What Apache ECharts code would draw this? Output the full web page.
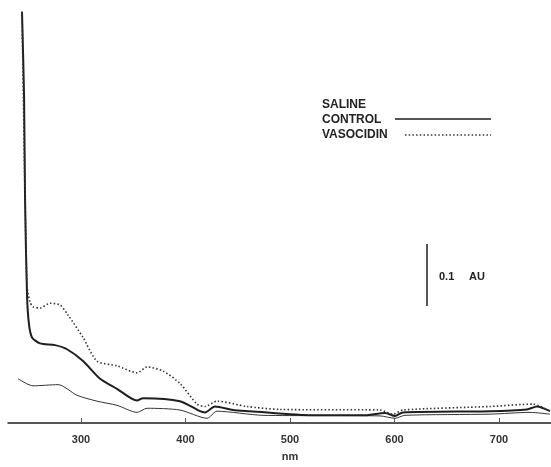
<!DOCTYPE html>
<html><head><meta charset="utf-8">
<script src="https://cdn.jsdelivr.net/npm/echarts@6/dist/echarts.min.js"></script>
<style>html,body{margin:0;padding:0;background:#fff}#c{width:551px;height:467px}</style>
</head><body><div id="c"></div>
<script>
var tickLabels = [300, 400, 500, 600, 700];
var legendNames = ['SALINE\nCONTROL', 'VASOCIDIN'];

var controlNm = [243.5,245.5,246.4,248.3,250.2,253.1,260.8,275.1,286.6,301.9,318.2,334.4,353.6,359.3,394.7,413.9,418.7,428.2,445.5,461.7,522,569.9,591,600.5,608.1,691.4,726.8,736.4,748.8];
var controlAU = [0.697,0.55,0.383,0.217,0.167,0.145,0.135,0.132,0.125,0.105,0.075,0.058,0.038,0.042,0.037,0.020,0.018,0.028,0.022,0.020,0.013,0.013,0.017,0.012,0.018,0.020,0.023,0.028,0.020];

var vasoNm = [243.5,246.4,248.3,251.2,254.1,260.8,270.3,279.9,287.6,301.9,315.3,334.4,353.6,363.2,378.5,394.7,411,418.7,430.1,458.9,490.4,586.1,598.6,608.1,691.4,732.5,748.8];
var vasoAU = [0.697,0.383,0.233,0.205,0.197,0.195,0.203,0.2,0.183,0.145,0.105,0.097,0.085,0.095,0.088,0.067,0.032,0.028,0.037,0.028,0.023,0.022,0.015,0.022,0.028,0.032,0.02];

var thinNm = [239.7,254.1,278,296.2,315.3,334.4,353.6,363.2,394.7,420.6,430.1,474.2,586.1,600.5,610,691.4,729.7,748.8];
var thinAU = [0.075,0.063,0.065,0.047,0.037,0.03,0.018,0.025,0.022,0.008,0.02,0.013,0.012,0.008,0.013,0.015,0.018,0.015];

function pairs(xs, ys){ return xs.map(function(x,i){ return [x, ys[i]]; }); }

var ink = '#1e1e1e';
var fontFam = 'Liberation Sans, Arial, sans-serif';
var chart = echarts.init(document.getElementById('c'), null, {renderer:'canvas'});
chart.setOption({
  animation: false,
  backgroundColor: '#fff',
  grid: {left: 8, right: 0, top: 10, bottom: 37},
  xAxis: {
    type: 'value', min: 230.1, max: 749.8,
    splitLine: {show: false},
    axisLine: {lineStyle: {color: ink, width: 1.5}},
    axisTick: {show: true, inside: true, length: 5, lineStyle: {color: '#555'}, customValues: tickLabels},
    axisLabel: {customValues: tickLabels, color: '#333', fontSize: 11, fontWeight: 'bold', fontFamily: fontFam, margin: 11},
    name: 'nm', nameLocation: 'middle', nameGap: 28,
    nameTextStyle: {color: '#333', fontSize: 11, fontWeight: 'bold', fontFamily: fontFam, padding: [0, 0, 0, 21]}
  },
  yAxis: {type: 'value', min: 0, max: 0.7, show: false},
  series: [
    {name: 'thin', type: 'line', data: pairs(thinNm, thinAU), showSymbol: false, smooth: 0.25,
     lineStyle: {color: '#333', width: 1}},
    {name: legendNames[0], type: 'line', data: pairs(controlNm, controlAU), showSymbol: false, smooth: 0.25,
     lineStyle: {color: ink, width: 2}},
    {name: legendNames[1], type: 'line', data: pairs(vasoNm, vasoAU), showSymbol: false, smooth: 0.25,
     lineStyle: {color: '#333', width: 1.6, type: [1.5, 2.2]}}
  ],
  graphic: [
    {type: 'text', left: 322, top: 97, style: {text: 'SALINE\nCONTROL', fill: '#222', font: 'bold 12px ' + fontFam, lineHeight: 15}},
    {type: 'line', shape: {x1: 395, y1: 119, x2: 491, y2: 119}, style: {stroke: ink, lineWidth: 1.5}},
    {type: 'text', left: 322, top: 129, style: {text: 'VASOCIDIN', fill: '#222', font: 'bold 12px ' + fontFam}},
    {type: 'line', shape: {x1: 405, y1: 135, x2: 491, y2: 135}, style: {stroke: '#333', lineWidth: 1.4, lineDash: [1.5, 2.2]}},
    {type: 'line', shape: {x1: 427, y1: 244, x2: 427, y2: 306}, style: {stroke: ink, lineWidth: 1.5}},
    {type: 'text', left: 439, top: 271, style: {text: '0.1', fill: '#222', font: 'bold 11px ' + fontFam}},
    {type: 'text', left: 469, top: 271, style: {text: 'AU', fill: '#222', font: 'bold 11px ' + fontFam}}
  ]
});
</script></body></html>
